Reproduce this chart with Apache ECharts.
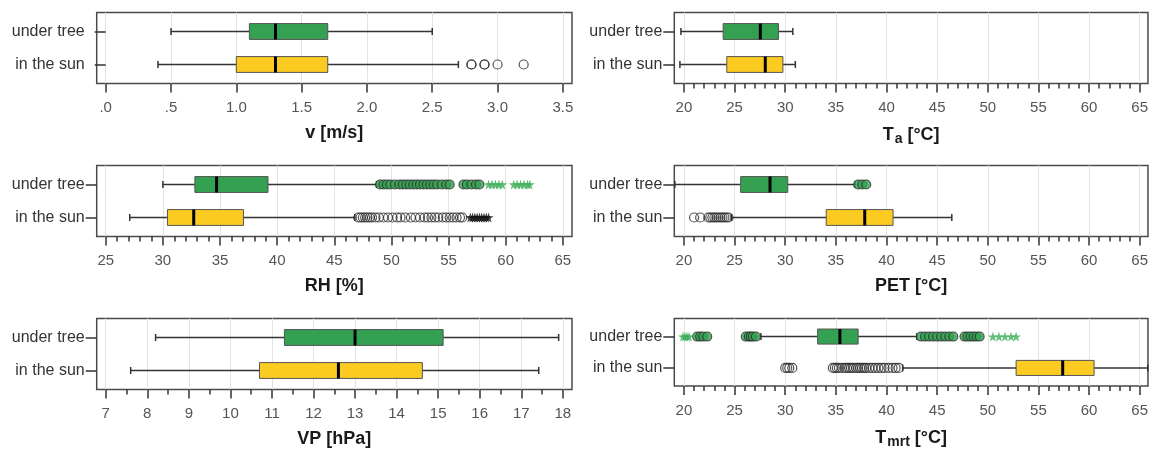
<!DOCTYPE html>
<html><head><meta charset="utf-8">
<script src="https://cdn.jsdelivr.net/npm/echarts@6/dist/echarts.min.js"></script>
<style>html,body{margin:0;padding:0;background:#fff}#c{width:1151px;height:450px}</style>
</head><body><div id="c"></div><script>
// ---------- DATA ----------
const groups = ['under tree', 'in the sun'];
// each box: [lower whisker, Q1, median, Q3, upper whisker]; row 0 = under tree, row 1 = in the sun
const vBox = [[0.5, 1.1, 1.3, 1.7, 2.5], [0.4, 1.0, 1.3, 1.7, 2.7]];
const vOutSun = [2.8, 2.8, 2.9, 2.9, 3.0, 3.2];
const vTicks = [0, 0.5, 1.0, 1.5, 2.0, 2.5, 3.0, 3.5];

const taBox = [[19.7, 23.87, 27.54, 29.34, 30.75], [19.6, 24.23, 28.03, 29.77, 31.0]];
const tempTicks = [20, 25, 30, 35, 40, 45, 50, 55, 60, 65];

const rhBox = [[30.0, 32.8, 34.7, 39.2, 48.7], [27.1, 30.4, 32.7, 37.05, 46.8]];
const rhOutTree = [49.0, 49.3, 49.6, 49.9, 50.3, 50.7, 51.0, 51.3, 51.6, 51.9, 52.2, 52.5, 52.8, 53.1, 53.4, 53.7, 54.0, 54.4, 54.8, 55.1, 56.3, 56.6, 57.0, 57.4, 57.7];
const rhStarTree = [58.5, 58.8, 59.1, 59.4, 59.7, 60.7, 61.0, 61.3, 61.6, 61.9, 62.1];
const rhOutSun = [47.1, 47.3, 47.5, 47.7, 47.9, 48.1, 48.3, 48.6, 48.9, 49.3, 49.7, 50.1, 50.5, 50.8, 51.2, 51.7, 52.1, 52.5, 52.9, 53.2, 53.5, 53.8, 54.1, 54.5, 54.8, 55.1, 55.4, 55.7, 56.0, 56.2];
const rhStarSun = [56.9, 57.1, 57.3, 57.5, 57.7, 57.9, 58.1, 58.3, 58.5];
const rhTicks = [25, 30, 35, 40, 45, 50, 55, 60, 65];

const petBox = [[19.1, 25.6, 28.5, 30.25, 36.9], [24.7, 34.05, 37.85, 40.65, 46.45]];
const petOutTree = [37.2, 37.6, 38.0];
const petOutSun = [21.0, 21.6, 22.4, 22.6, 22.8, 23.0, 23.2, 23.4, 23.6, 23.8, 24.0, 24.2, 24.4];

const vpBox = [[8.2, 11.3, 13.0, 15.12, 17.9], [7.6, 10.7, 12.6, 14.62, 17.42]];
const vpTicks = [7, 8, 9, 10, 11, 12, 13, 14, 15, 16, 17, 18];

const tmrtBox = [[27.6, 33.2, 35.4, 37.2, 43.0], [41.6, 52.8, 57.4, 60.5, 65.8]];
const tmrtOutTree = [21.3, 21.6, 21.9, 22.3, 26.1, 26.4, 26.6, 26.8, 27.1, 43.4, 43.8, 44.2, 44.6, 45.0, 45.4, 45.8, 46.2, 46.6, 47.7, 48.0, 48.3, 48.6, 48.9, 49.2];
const tmrtStarTree = [19.9, 20.1, 20.3, 20.5, 50.5, 51.1, 51.7, 52.3, 52.8];
const tmrtOutSun = [30.0, 30.2, 30.4, 30.7, 34.7, 34.9, 35.1, 35.3, 35.6, 35.9, 36.1, 36.3, 36.5, 36.7, 37.0, 37.2, 37.4, 37.6, 37.8, 38.0, 38.3, 38.6, 38.9, 39.2, 39.5, 39.8, 40.2, 40.6, 40.9, 41.2];

// ---------- STYLE / LAYOUT ----------
const boxColors = ['#34a052', '#fccb22'];
const FONT = 'Liberation Sans, Arial, sans-serif';
const STAR = 'path://M50,0 L61,35 L98,35 L68,57 L79,91 L50,70 L21,91 L32,57 L2,35 L39,35 Z';
const styles = {
  greenCircle: {symbol: 'circle', symbolSize: 9, itemStyle: {color: '#34a052', borderColor: '#2a2a2a', borderWidth: 1.1}},
  openCircle: {symbol: 'circle', symbolSize: 9, itemStyle: {color: 'transparent', borderColor: '#2a2a2a', borderWidth: 1.2}},
  greenStar: {symbol: STAR, symbolSize: 10, itemStyle: {color: '#3fae5a'}},
  blackStar: {symbol: STAR, symbolSize: 10, itemStyle: {color: '#111'}}
};

function minorFrom(major, step) {
  const out = [];
  if (!step) return out;
  for (let i = 0; i < major.length - 1; i++) {
    for (let v = major[i] + step; v < major[i + 1] - 1e-9; v += step) out.push(+v.toFixed(3));
  }
  return out;
}

const L = {left: 96.7, width: 475.3};
const R = {left: 674.3, width: 475.7};
const tops = [12.5, 165.5, 318.5];

const panels = [
  {pos: L, top: tops[0], box: vBox, min: -0.069, max: 3.57, major: vTicks, minorStep: 0,
   fmt: v => (v === 0 ? '.0' : v === 0.5 ? '.5' : v.toFixed(1)), name: 'v [m/s]',
   out: [{vals: vOutSun, row: 2, st: 'openCircle'}]},
  {pos: R, top: tops[0], box: taBox, min: 19.046, max: 65.82, major: tempTicks, minorStep: 1,
   fmt: v => String(v), name: '{t|T}{s|a}{t| [°C]}', out: []},
  {pos: L, top: tops[1], box: rhBox, min: 24.21, max: 65.8, major: rhTicks, minorStep: 1,
   fmt: v => String(v), name: 'RH [%]',
   out: [{vals: rhOutTree, row: 1, st: 'greenCircle'}, {vals: rhStarTree, row: 1, st: 'greenStar'},
         {vals: rhOutSun, row: 2, st: 'openCircle'}, {vals: rhStarSun, row: 2, st: 'blackStar'}]},
  {pos: R, top: tops[1], box: petBox, min: 19.046, max: 65.82, major: tempTicks, minorStep: 1,
   fmt: v => String(v), name: 'PET [°C]',
   out: [{vals: petOutTree, row: 1, st: 'greenCircle'}, {vals: petOutSun, row: 2, st: 'openCircle'}]},
  {pos: L, top: tops[2], box: vpBox, min: 6.783, max: 18.221, major: vpTicks, minorStep: 0.5,
   fmt: v => String(v), name: 'VP [hPa]', out: []},
  {pos: R, top: tops[2], box: tmrtBox, min: 19.046, max: 65.82, major: tempTicks, minorStep: 1,
   fmt: v => String(v), name: '{t|T}{s|mrt}{t| [°C]}',
   out: [{vals: tmrtOutTree, row: 1, st: 'greenCircle'}, {vals: tmrtStarTree, row: 1, st: 'greenStar'},
         {vals: tmrtOutSun, row: 2, st: 'openCircle'}]}
];

function renderBox(params, api) {
  const row = api.value(0);
  const p = [1, 2, 3, 4, 5].map(k => api.coord([api.value(k), row]));
  const h = api.size([0, 0.48])[1] / 2;
  const cap = 3.5;
  const y = p[0][1];
  const wl = {stroke: '#333', lineWidth: 1.5};
  return {type: 'group', children: [
    {type: 'line', shape: {x1: p[0][0], y1: y, x2: p[1][0], y2: y}, style: wl},
    {type: 'line', shape: {x1: p[3][0], y1: y, x2: p[4][0], y2: y}, style: wl},
    {type: 'line', shape: {x1: p[0][0], y1: y - cap, x2: p[0][0], y2: y + cap}, style: wl},
    {type: 'line', shape: {x1: p[4][0], y1: y - cap, x2: p[4][0], y2: y + cap}, style: wl},
    {type: 'rect', shape: {x: p[1][0], y: y - h, width: p[3][0] - p[1][0], height: 2 * h},
     style: {fill: boxColors[row - 1], stroke: '#555', lineWidth: 1}},
    {type: 'line', shape: {x1: p[2][0], y1: y - h, x2: p[2][0], y2: y + h}, style: {stroke: '#000', lineWidth: 3}}
  ]};
}

const grid = [], xAxis = [], yAxis = [], series = [];
panels.forEach((pn, i) => {
  grid.push({left: pn.pos.left, width: pn.pos.width, top: pn.top, height: 71, show: true,
    borderColor: '#4a4a4a', borderWidth: 1.5, backgroundColor: 'transparent'});
  xAxis.push({gridIndex: i, type: 'value', position: 'bottom', min: pn.min, max: pn.max,
    axisLine: {show: false},
    axisTick: {show: true, customValues: pn.major, length: 9, lineStyle: {color: '#333', width: 1.5}},
    axisLabel: {customValues: pn.major, margin: 17, fontSize: 15, color: '#555', fontFamily: FONT, formatter: pn.fmt},
    splitLine: {show: true, lineStyle: {color: '#e2e2e2', width: 1}},
    name: pn.name, nameLocation: 'middle', nameGap: 41,
    nameTextStyle: {fontSize: 18, fontWeight: 'bold', color: '#1a1a1a', fontFamily: FONT,
      rich: {t: {fontSize: 18, fontWeight: 'bold', color: '#1a1a1a', fontFamily: FONT},
             s: {fontSize: 14, fontWeight: 'bold', color: '#1a1a1a', fontFamily: FONT, padding: [8, 0, 0, 1]}}}});
  const minor = minorFrom(pn.major, pn.minorStep);
  xAxis.push({gridIndex: i, type: 'value', position: 'bottom', min: pn.min, max: pn.max,
    axisLine: {show: false},
    axisTick: {show: minor.length > 0, customValues: minor.length ? minor : [pn.major[0]], length: 5, lineStyle: {color: '#333', width: 1.5}},
    axisLabel: {show: false}, splitLine: {show: false}});
  yAxis.push({gridIndex: i, type: 'value', min: 0.424, max: 2.576, inverse: true,
    axisLine: {show: false},
    axisTick: {show: true, customValues: [1, 2], length: 11, lineStyle: {color: '#333', width: 1.5}},
    axisLabel: {customValues: [1, 2], margin: 12, fontSize: 16, color: '#333', fontFamily: FONT,
      formatter: v => groups[Math.round(v) - 1]},
    splitLine: {show: false}});
  series.push({type: 'custom', xAxisIndex: 2 * i, yAxisIndex: i, renderItem: renderBox, z: 3,
    data: pn.box.map((b, k) => [k + 1].concat(b)), silent: true});
  pn.out.forEach(o => {
    const st = styles[o.st];
    series.push({type: 'scatter', xAxisIndex: 2 * i, yAxisIndex: i, z: 4, silent: true,
      symbol: st.symbol, symbolSize: st.symbolSize, itemStyle: st.itemStyle,
      data: o.vals.map(v => [v, o.row])});
  });
});

const chart = echarts.init(document.getElementById('c'), null, {renderer: 'canvas'});
chart.setOption({animation: false, backgroundColor: '#fff', grid, xAxis, yAxis, series});
</script></body></html>
